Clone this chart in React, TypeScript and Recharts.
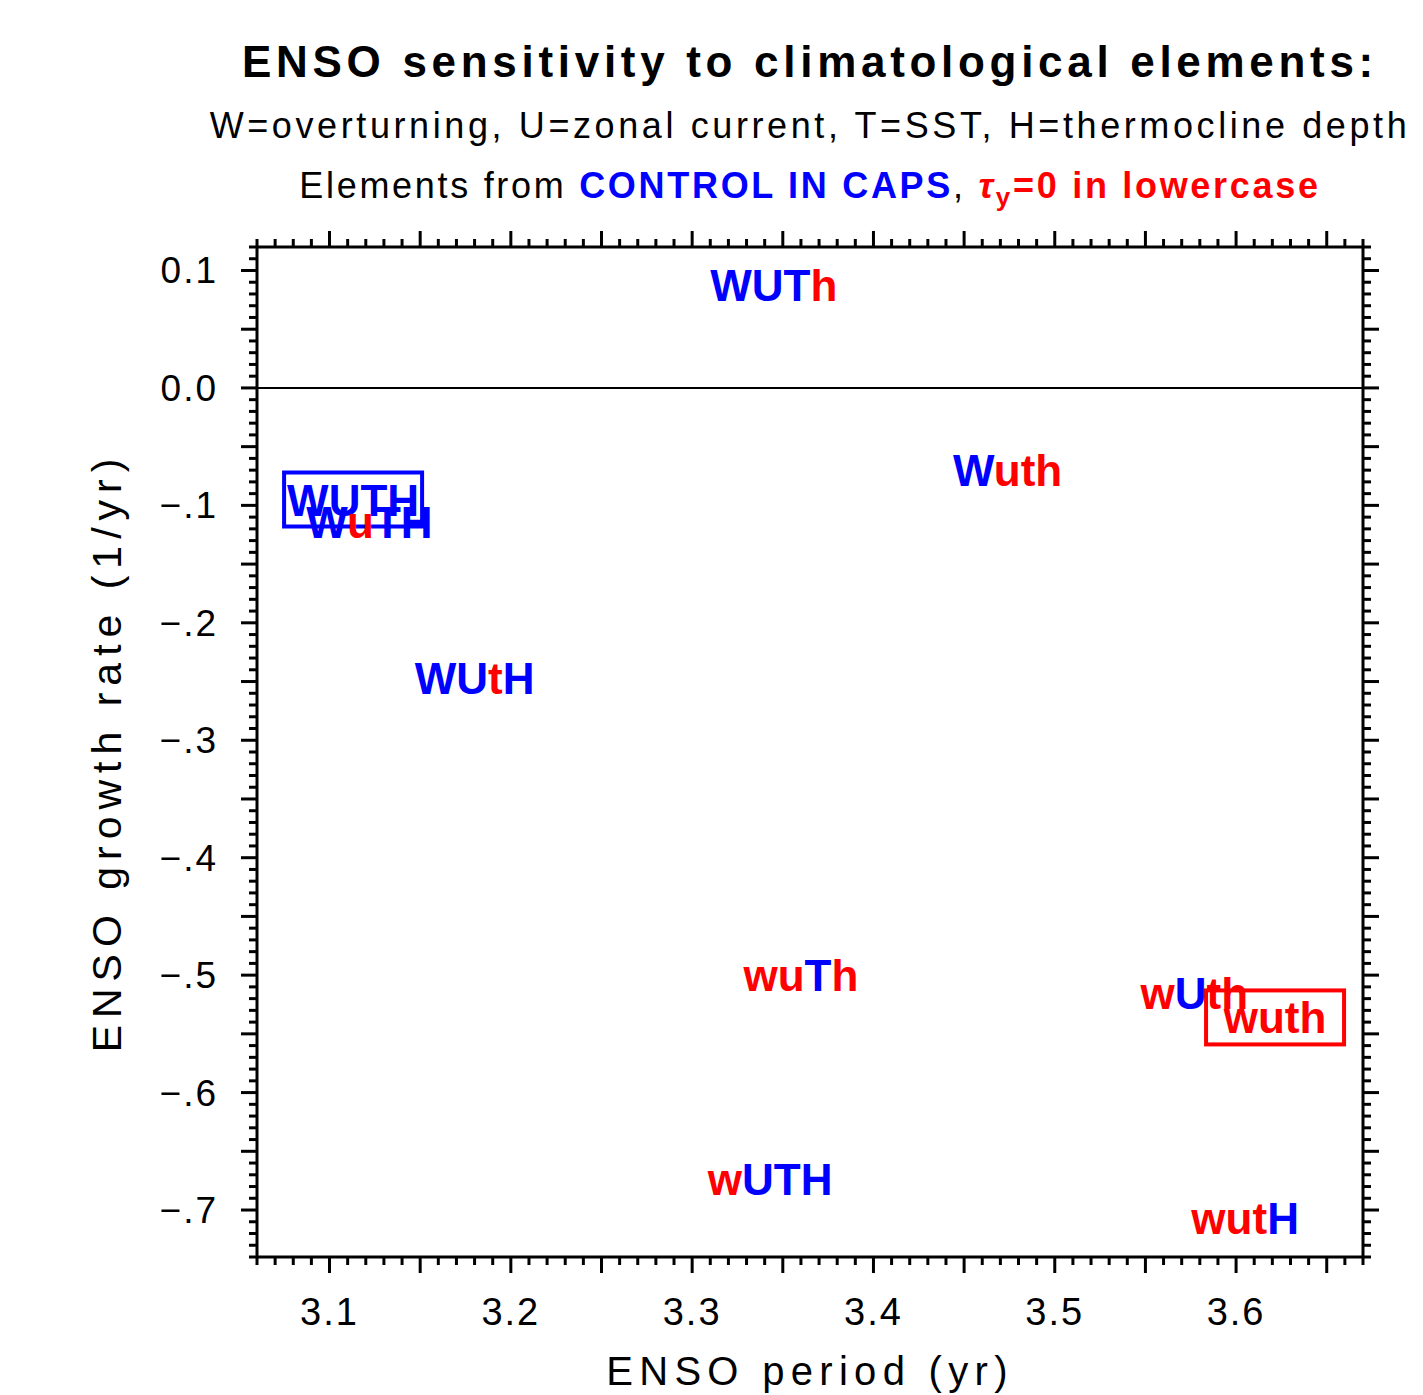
import React from 'react';
import { ScatterChart, Scatter, XAxis, YAxis, ReferenceLine } from 'recharts';

// ENSO period (yr) and growth rate (1/yr) for each experiment label
const labels = ['WUTh', 'Wuth', 'WUTH', 'WuTH', 'WUtH', 'wuTh', 'wuth', 'wUth', 'wUTH', 'wutH'];
const periods = [3.345, 3.474, 3.113, 3.122, 3.180, 3.360, 3.6215, 3.577, 3.343, 3.605];
const growthRates = [0.088, -0.070, -0.095, -0.114, -0.247, -0.500, -0.536, -0.515, -0.674, -0.707];
const boxedLabels = ['WUTH', 'wuth'];

const xTickLabels = ['3.1', '3.2', '3.3', '3.4', '3.5', '3.6'];
const yTickLabels = ['0.1', '0.0', '\u2212.1', '\u2212.2', '\u2212.3', '\u2212.4', '\u2212.5', '\u2212.6', '\u2212.7'];

const X_DOMAIN: [number, number] = [3.06, 3.67];
const Y_DOMAIN: [number, number] = [-0.74, 0.12];

const BLUE = '#0000ff';
const RED = '#ff0000';
const FONT = '"Liberation Sans", Arial, sans-serif';

const data = labels.map((label, i) => ({
  x: periods[i],
  y: growthRates[i],
  label,
  boxed: boxedLabels.includes(label),
}));

// minor ticks every 0.01, longer ones every 0.05
const hundredths = (lo: number, hi: number) => {
  const out: number[] = [];
  for (let h = Math.ceil(lo * 100 - 1e-6); h <= Math.floor(hi * 100 + 1e-6); h++) out.push(h / 100);
  return out;
};
const xTicks = hundredths(X_DOMAIN[0], X_DOMAIN[1]);
const yTicks = hundredths(Y_DOMAIN[0], Y_DOMAIN[1]);

const tickLen = (v: number) => (Math.round(v * 100) % 5 === 0 ? 16 : 8);
const isLabelled = (v: number) => Math.round(v * 100) % 10 === 0;

const XTick = (props: any) => {
  const { x, y, payload, side } = props;
  const v = payload.value;
  const dir = side === 'bottom' ? 1 : -1;
  let txt = '';
  if (side === 'bottom' && isLabelled(v)) {
    const idx = Math.round(v * 10) - 31;
    txt = xTickLabels[idx] ?? '';
  }
  return (
    <g>
      <line x1={x} x2={x} y1={y} y2={y + dir * tickLen(v)} stroke="#000" strokeWidth={3} />
      {txt && (
        <text x={x} y={y + 68} textAnchor="middle" fontFamily={FONT} fontSize={38} letterSpacing={2} fill="#000">
          {txt}
        </text>
      )}
    </g>
  );
};

const YTick = (props: any) => {
  const { x, y, payload, side } = props;
  const v = payload.value;
  const dir = side === 'left' ? -1 : 1;
  let txt = '';
  if (side === 'left' && isLabelled(v)) {
    const idx = 1 - Math.round(v * 10);
    txt = yTickLabels[idx] ?? '';
  }
  return (
    <g>
      <line x1={x} x2={x + dir * tickLen(v)} y1={y} y2={y} stroke="#000" strokeWidth={3} />
      {txt && (
        <text x={x - 39} y={y + 13} textAnchor="end" fontFamily={FONT} fontSize={37} letterSpacing={2} fill="#000">
          {txt}
        </text>
      )}
    </g>
  );
};

const LabelMark = (props: any) => {
  const { cx, cy, payload } = props;
  const label: string = payload.label;
  const boxColor = label === label.toUpperCase() ? BLUE : RED;
  return (
    <g>
      {payload.boxed && (
        <rect x={cx - 69} y={cy - 27} width={138} height={54} fill="none" stroke={boxColor} strokeWidth={4} />
      )}
      <text x={cx} y={cy + 16} textAnchor="middle" fontFamily={FONT} fontSize={44} fontWeight="bold">
        {label.split('').map((c, i) => (
          <tspan key={i} fill={c === c.toUpperCase() ? BLUE : RED}>
            {c}
          </tspan>
        ))}
      </text>
    </g>
  );
};

export default function App() {
  return (
    <div style={{ position: 'absolute', left: 0, top: 0, width: 1423, height: 1395, background: '#fff' }}>
      <ScatterChart width={1423} height={1395} margin={{ top: 0, right: 0, bottom: 0, left: 0 }}>
        <XAxis
          xAxisId="b"
          type="number"
          dataKey="x"
          orientation="bottom"
          domain={X_DOMAIN}
          allowDataOverflow
          ticks={xTicks}
          interval={0}
          height={138}
          tickSize={0}
          tickMargin={0}
          tickLine={false}
          axisLine={{ stroke: '#000', strokeWidth: 3 }}
          tick={<XTick side="bottom" />}
        />
        <XAxis
          xAxisId="t"
          type="number"
          dataKey="x"
          orientation="top"
          domain={X_DOMAIN}
          allowDataOverflow
          ticks={xTicks}
          interval={0}
          height={247}
          tickSize={0}
          tickMargin={0}
          tickLine={false}
          axisLine={{ stroke: '#000', strokeWidth: 3 }}
          tick={<XTick side="top" />}
        />
        <YAxis
          yAxisId="l"
          type="number"
          dataKey="y"
          orientation="left"
          domain={Y_DOMAIN}
          allowDataOverflow
          ticks={yTicks}
          interval={0}
          width={257}
          tickSize={0}
          tickMargin={0}
          tickLine={false}
          axisLine={{ stroke: '#000', strokeWidth: 3 }}
          tick={<YTick side="left" />}
        />
        <YAxis
          yAxisId="r"
          type="number"
          dataKey="y"
          orientation="right"
          domain={Y_DOMAIN}
          allowDataOverflow
          ticks={yTicks}
          interval={0}
          width={60}
          tickSize={0}
          tickMargin={0}
          tickLine={false}
          axisLine={{ stroke: '#000', strokeWidth: 3 }}
          tick={<YTick side="right" />}
        />
        <ReferenceLine xAxisId="b" yAxisId="l" y={0} stroke="#000" strokeWidth={2} />
        <Scatter xAxisId="b" yAxisId="l" data={data} shape={<LabelMark />} isAnimationActive={false} />
      </ScatterChart>
      <svg width={1423} height={1395} style={{ position: 'absolute', left: 0, top: 0, pointerEvents: 'none' }}>
        <text x={810} y={77} textAnchor="middle" fontFamily={FONT} fontSize={44} fontWeight="bold" letterSpacing={4.7}>
          ENSO sensitivity to climatological elements:
        </text>
        <text x={810} y={138} textAnchor="middle" fontFamily={FONT} fontSize={36} letterSpacing={3.6}>
          W=overturning, U=zonal current, T=SST, H=thermocline depth
        </text>
        <text
          x={810}
          y={198}
          textAnchor="middle"
          fontFamily={FONT}
          fontSize={36}
          letterSpacing={2.7}
          style={{ whiteSpace: 'pre' }}
        >
          <tspan>{'Elements from '}</tspan>
          <tspan fill={BLUE} fontWeight="bold">{'CONTROL IN CAPS'}</tspan>
          <tspan>{', '}</tspan>
          <tspan fill={RED} fontWeight="bold" fontStyle="italic">{'\u03c4'}</tspan>
          <tspan fill={RED} fontWeight="bold" fontSize={26} dy={8}>{'y'}</tspan>
          <tspan fill={RED} fontWeight="bold" dy={-8}>{'=0 in lowercase'}</tspan>
        </text>
        <text x={810} y={1385} textAnchor="middle" fontFamily={FONT} fontSize={40} letterSpacing={6.3}>
          ENSO period (yr)
        </text>
        <text
          x={0}
          y={0}
          transform="translate(121,752) rotate(-90)"
          textAnchor="middle"
          fontFamily={FONT}
          fontSize={41}
          letterSpacing={7}
        >
          ENSO growth rate (1/yr)
        </text>
      </svg>
    </div>
  );
}
